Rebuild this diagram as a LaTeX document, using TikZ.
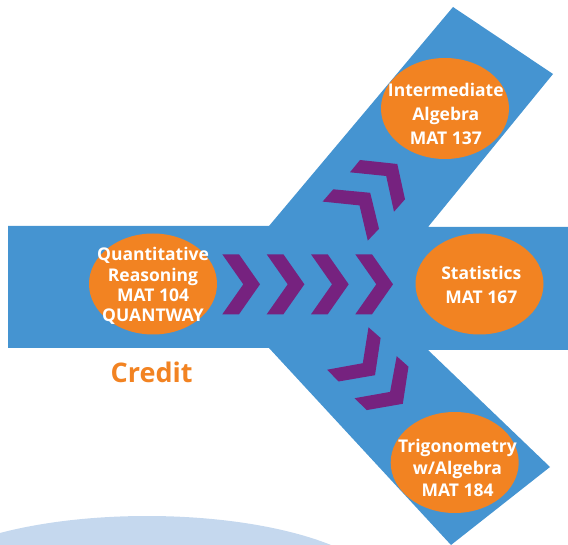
\documentclass[tikz,border=0pt]{standalone}
\usepackage{fontspec}
\setmainfont{Open Sans}
\usetikzlibrary{shapes.geometric}
\definecolor{bandblue}{HTML}{4594D1}
\definecolor{orng}{HTML}{F28322}
\definecolor{purp}{HTML}{76227F}
\definecolor{paleblue}{HTML}{C5D8EE}
\begin{document}
\begin{tikzpicture}[x=1pt,y=-1pt,
  course/.style={ellipse, fill=orng, minimum width=128pt, minimum height=101pt, inner sep=0pt},
  ctext/.style={text=white, font=\bfseries\fontsize{17.5}{#1}\selectfont, align=center, inner sep=0pt},
  chev/.style={fill=purp}]
\useasboundingbox (0,0) rectangle (568,545);
\fill[paleblue] (147,597) ellipse [x radius=240, y radius=81];
\fill[bandblue] (8,226) -- (269,226) -- (453,7) -- (553,74) -- (428,227) -- (568,227) -- (568,350) -- (428,350) -- (550,467) -- (451,545) -- (269,348) -- (8,348) -- cycle;
% chevrons
\foreach \x in {222.3,266.7,311,355.3}
  \fill[chev] (\x,254.3) -- ++(16.7,0) -- ++(21,30) -- ++(-21,30) -- ++(-16.7,0) -- ++(21,-30) -- cycle;
\fill[chev] (360,160) -- (397.3,164) -- (405,199.3) -- (394,211.7) -- (386.2,176) -- (350,172.3) -- cycle;
\fill[chev] (333.3,189.3) -- (370.2,192.8) -- (379,228.8) -- (367.8,240.6) -- (359.5,205.4) -- (322.6,201.6) -- cycle;
\fill[chev] (368.5,327.3) -- (380.6,338) -- (375,375.2) -- (338.5,381.5) -- (327.2,369.7) -- (362.8,363.2) -- cycle;
\fill[chev] (396.7,356.2) -- (408.5,366.7) -- (402.8,403.8) -- (366.7,410.1) -- (354.6,398.2) -- (390.1,391.9) -- cycle;
% courses
\node[course] (qr) at (153,284) {};
\node[course] (st) at (479.5,284) {};
\node[course] (ia) at (445,108.5) {};
\node[course] (tr) at (454.7,462.5) {};
\node[ctext=20.3] (qrt) at (153,286) {Quantitative\\Reasoning\\MAT 104\\QUANTWAY};
\node[ctext=23.6] (stt) at (481.3,285) {Statistics\\MAT 167};
\node[ctext=23.6] (iat) at (445.8,114) {Intermediate\\Algebra\\MAT 137};
\node[ctext=21.7] (trt) at (457.5,468) {Trigonometry\\w/Algebra\\MAT 184};
\node[text=orng, font=\bfseries\fontsize{27}{30}\selectfont, inner sep=0pt] (cr) at (151.7,372) {Credit};
\end{tikzpicture}
\end{document}
